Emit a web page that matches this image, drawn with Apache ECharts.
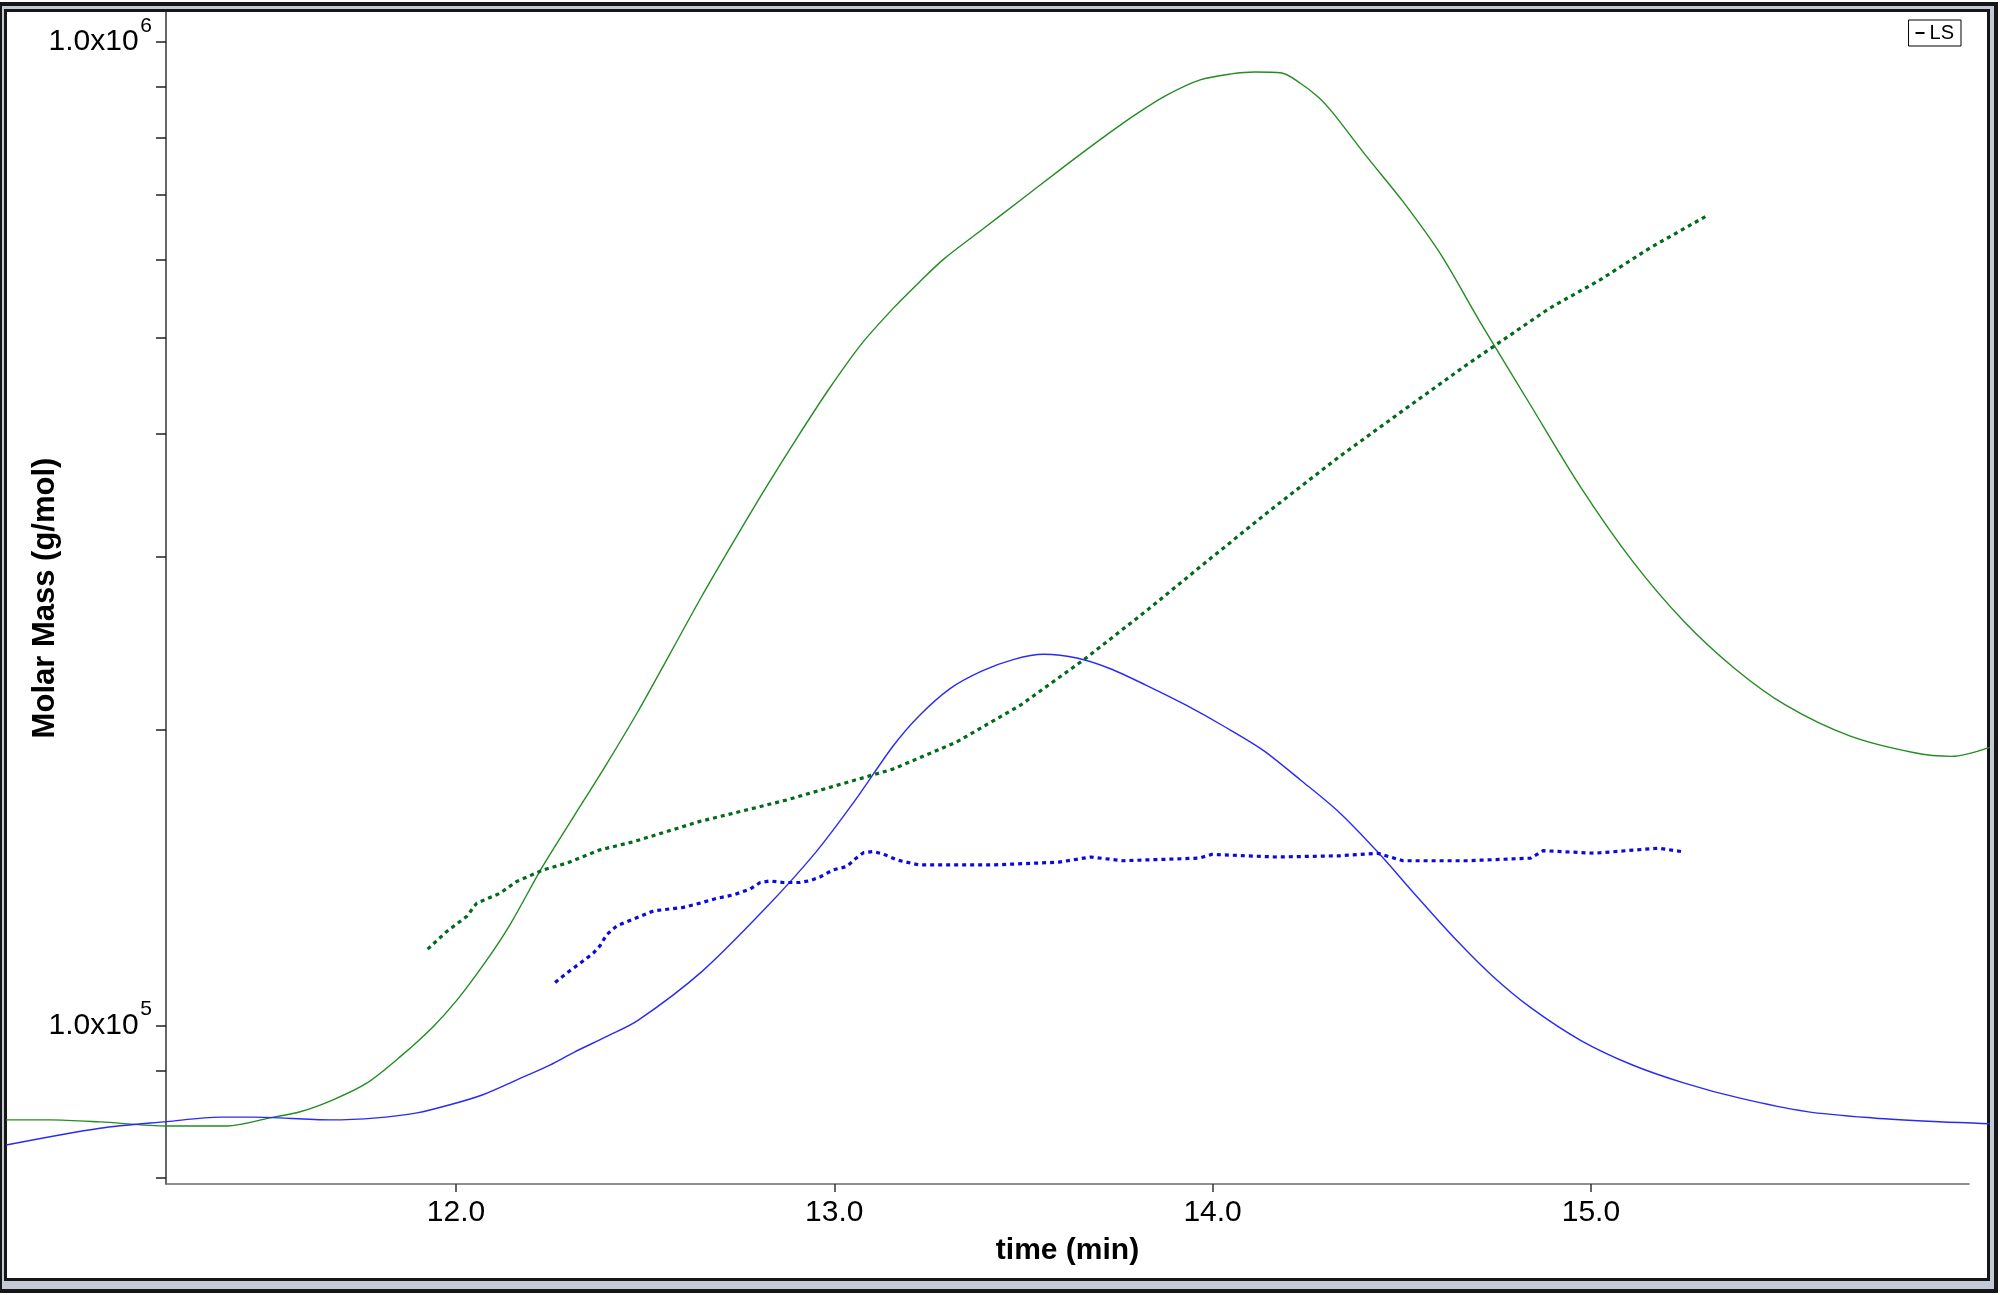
<!DOCTYPE html>
<html>
<head>
<meta charset="utf-8">
<script src="https://cdn.jsdelivr.net/npm/echarts@6/dist/echarts.min.js"></script>
<style>
html,body{margin:0;padding:0;background:#ffffff;}
#chart{width:2000px;height:1295px;}
</style>
</head>
<body>
<div id="chart"></div>
<script>
// ---- Data (time in min, molar mass in g/mol) ----
// LS trace (green solid)
const lsTime = [10.811, 10.929, 11.059, 11.236, 11.395, 11.508, 11.588, 11.675, 11.765, 11.852, 11.939, 12.003, 12.076, 12.143, 12.228, 12.312, 12.396, 12.481, 12.565, 12.649, 12.733, 12.818, 12.902, 12.986, 13.071, 13.155, 13.222, 13.290, 13.391, 13.492, 13.593, 13.702, 13.795, 13.880, 13.967, 14.049, 14.112, 14.183, 14.231, 14.279, 14.318, 14.408, 14.503, 14.604, 14.706, 14.841, 14.975, 15.110, 15.245, 15.380, 15.515, 15.684, 15.852, 15.953, 16.054];
const lsMass = [80200, 80200, 79820, 79070, 79070, 80580, 81730, 84060, 87450, 92940, 99700, 106200, 115800, 126700, 144900, 163300, 183900, 208600, 238500, 272900, 310100, 351700, 396100, 443800, 492700, 535700, 568600, 601900, 644600, 690400, 739600, 795100, 843000, 883400, 915100, 928000, 932200, 930100, 908500, 879300, 847000, 764100, 688500, 607500, 520000, 427000, 351700, 296600, 257800, 230700, 211700, 197000, 189500, 187800, 191800];
// Second detector trace (blue solid)
const riTime = [10.811, 11.059, 11.236, 11.376, 11.463, 11.667, 11.791, 11.897, 11.984, 12.071, 12.161, 12.248, 12.312, 12.396, 12.481, 12.649, 12.818, 12.952, 13.054, 13.155, 13.222, 13.306, 13.391, 13.475, 13.553, 13.644, 13.728, 13.829, 13.930, 14.032, 14.132, 14.234, 14.335, 14.436, 14.537, 14.638, 14.739, 14.841, 14.975, 15.110, 15.245, 15.394, 15.571, 15.746, 15.921, 16.054];
const riMass = [75620, 78650, 79880, 80710, 80710, 80200, 80580, 81520, 83080, 85060, 88080, 91180, 93950, 97390, 101230, 113400, 131600, 150200, 169200, 192300, 206100, 220100, 229400, 235700, 238500, 236300, 230700, 221400, 211700, 201300, 190700, 177500, 164700, 150200, 135700, 122900, 112400, 104300, 96510, 91190, 87460, 84380, 81770, 80560, 79840, 79480];
// Molar mass points (green dotted)
const mmGreenTime = [11.925, 11.975, 12.028, 12.055, 12.116, 12.160, 12.231, 12.293, 12.381, 12.469, 12.557, 12.645, 12.733, 12.821, 12.874, 13.155, 13.323, 13.492, 13.661, 13.829, 13.998, 14.166, 14.335, 14.503, 14.672, 14.760, 14.892, 15.024, 15.156, 15.310];
const mmGreenMass = [119600, 124600, 129100, 133200, 136300, 140100, 144000, 146300, 150900, 153800, 157500, 161300, 164400, 167600, 169600, 182300, 194200, 211700, 235700, 264800, 299300, 337300, 378800, 421900, 469800, 495500, 536600, 572900, 617400, 667000];
// Molar mass points (blue dotted)
const mmBlueTime = [12.262, 12.293, 12.328, 12.363, 12.381, 12.398, 12.425, 12.469, 12.522, 12.601, 12.645, 12.689, 12.733, 12.777, 12.804, 12.830, 12.865, 12.909, 12.936, 12.962, 12.997, 13.033, 13.055, 13.077, 13.103, 13.130, 13.165, 13.222, 13.323, 13.425, 13.593, 13.678, 13.762, 13.964, 13.998, 14.166, 14.335, 14.436, 14.503, 14.672, 14.841, 14.874, 15.009, 15.178, 15.245];
const mmBlueMass = [110600, 113100, 115700, 118500, 120600, 123700, 126300, 128300, 130800, 131900, 133200, 134700, 135800, 137600, 139800, 140300, 139800, 139800, 140400, 141600, 144000, 145100, 147700, 149900, 150300, 149400, 147400, 145700, 145700, 145700, 146600, 148400, 147100, 148000, 149300, 148400, 148800, 149700, 147100, 147100, 148000, 150600, 149700, 151500, 150200];

// Axis ticks / labels / ranges
const xTickValues = [12, 13, 14, 15];
const yLabelValues = [1e5, 1e6];
const yTickValues = [7e4, 9e4, 1e5, 2e5, 3e5, 4e5, 5e5, 6e5, 7e5, 8e5, 9e5, 1e6];
const xRange = [11.2334, 15.9995];       // visible axis extent
const xPlotRange = [10.8105, 16.0550];   // full drawing width (traces run past the axes)
const yRange = [69020, 1072700];

function pairs(t, m) {
  const n = Math.min(t.length, m.length);
  const out = [];
  for (let i = 0; i < n; i++) out.push([t[i], m[i]]);
  return out;
}

const FONT = "'Liberation Sans', Arial, Helvetica, sans-serif";

// "1.0x10" with a raised exponent: exponent on a thin first line,
// a transparent copy of it reserves the width on the main line.
function fmtY(v) {
  const val = v > 1000 ? v : Math.pow(10, v);
  const e = Math.floor(Math.log10(val) + 1e-9);
  const m = val / Math.pow(10, e);
  return '{s|' + e + '}\n{b|' + m.toFixed(1) + 'x10}{g|' + e + '}\n{e| }';
}

const chart = echarts.init(document.getElementById('chart'), null, {renderer: 'canvas'});

chart.setOption({
  animation: false,
  textStyle: {fontFamily: FONT},
  graphic: [
    {type: 'rect', z: -20, silent: true, shape: {x: 0, y: 0, width: 2000, height: 1295}, style: {fill: '#ffffff'}},
    {type: 'rect', z: -19, silent: true, shape: {x: 0, y: 2, width: 1998, height: 1291}, style: {fill: '#161616'}},
    {type: 'rect', z: -18, silent: true, shape: {x: 2, y: 6, width: 1992, height: 1283}, style: {fill: '#c4c9d6'}},
    {type: 'rect', z: -17, silent: true, shape: {x: 4, y: 9, width: 1986, height: 1272}, style: {fill: '#161616'}},
    {type: 'rect', z: -16, silent: true, shape: {x: 7, y: 12, width: 1980, height: 1266}, style: {fill: '#ffffff'}}
  ],
  legend: {
    data: [{name: 'LS', icon: 'rect', itemStyle: {color: '#000000'}}],
    right: 39,
    top: 20,
    itemWidth: 9,
    itemHeight: 2,
    borderColor: '#000000',
    borderWidth: 1,
    padding: [3, 7, 3, 7],
    selectedMode: false,
    textStyle: {fontSize: 20, color: '#000000', fontFamily: FONT}
  },
  grid: [
    {left: 166, right: 31, top: 12, bottom: 111, containLabel: false},
    {left: 6, right: 10, top: 12, bottom: 111, containLabel: false}
  ],
  xAxis: [
    {
      type: 'value',
      gridIndex: 0,
      min: xRange[0],
      max: xRange[1],
      name: 'time (min)',
      nameLocation: 'middle',
      nameGap: 52,
      nameMoveOverlap: false,
      nameTextStyle: {fontSize: 30, fontWeight: 'bold', color: '#000000', fontFamily: FONT},
      axisLine: {show: true, onZero: false, lineStyle: {color: '#6a6a6a', width: 1.5}},
      axisTick: {show: true, customValues: xTickValues, length: 8, lineStyle: {color: '#333333', width: 1.5}},
      axisLabel: {customValues: xTickValues, formatter: v => Number(v).toFixed(1), fontSize: 30, color: '#000000', margin: 14, fontFamily: FONT},
      splitLine: {show: false}
    },
    {
      type: 'value',
      gridIndex: 1,
      min: xPlotRange[0],
      max: xPlotRange[1],
      show: false,
      splitLine: {show: false}
    }
  ],
  yAxis: [
    {
      type: 'log',
      gridIndex: 0,
      logBase: 10,
      min: yRange[0],
      max: yRange[1],
      name: 'Molar Mass (g/mol)',
      nameLocation: 'middle',
      nameGap: 105,
      nameMoveOverlap: false,
      nameTextStyle: {fontSize: 31, fontWeight: 'bold', color: '#000000', fontFamily: FONT},
      axisLine: {show: true, onZero: false, lineStyle: {color: '#333333', width: 1.5}},
      axisTick: {show: true, customValues: yTickValues, length: 10, lineStyle: {color: '#222222', width: 1.5}},
      axisLabel: {
        customValues: yLabelValues,
        formatter: fmtY,
        margin: 14,
        align: 'right',
        rich: {
          s: {fontSize: 21, lineHeight: 2, align: 'right', color: '#000000', fontFamily: FONT},
          b: {fontSize: 30, lineHeight: 30, align: 'right', color: '#000000', fontFamily: FONT},
          g: {fontSize: 24, lineHeight: 30, align: 'right', color: 'rgba(0,0,0,0)', fontFamily: FONT},
          e: {fontSize: 2, lineHeight: 2, align: 'right', color: 'rgba(0,0,0,0)', fontFamily: FONT}
        }
      },
      splitLine: {show: false},
      minorTick: {show: false}
    },
    {
      type: 'log',
      gridIndex: 1,
      logBase: 10,
      min: yRange[0],
      max: yRange[1],
      show: false,
      splitLine: {show: false}
    }
  ],
  series: [
    {
      name: 'LS', type: 'line', xAxisIndex: 1, yAxisIndex: 1,
      data: pairs(lsTime, lsMass), symbol: 'none', showSymbol: false,
      smooth: 0.3, clip: false, z: 3,
      lineStyle: {color: '#238c23', width: 1.4}, itemStyle: {color: '#238c23'}
    },
    {
      name: 'dRI', type: 'line', xAxisIndex: 1, yAxisIndex: 1,
      data: pairs(riTime, riMass), symbol: 'none', showSymbol: false,
      smooth: 0.3, clip: false, z: 3,
      lineStyle: {color: '#2a2af5', width: 1.4}, itemStyle: {color: '#2a2af5'}
    },
    {
      name: 'Molar mass (green)', type: 'line', xAxisIndex: 1, yAxisIndex: 1,
      data: pairs(mmGreenTime, mmGreenMass), symbol: 'none', showSymbol: false,
      smooth: false, clip: false, z: 4,
      lineStyle: {color: '#006b1b', width: 3.2, type: [4, 4], cap: 'butt'}, itemStyle: {color: '#006b1b'}
    },
    {
      name: 'Molar mass (blue)', type: 'line', xAxisIndex: 1, yAxisIndex: 1,
      data: pairs(mmBlueTime, mmBlueMass), symbol: 'none', showSymbol: false,
      smooth: false, clip: false, z: 4,
      lineStyle: {color: '#0a0ae0', width: 3.2, type: [4, 4], cap: 'butt'}, itemStyle: {color: '#0a0ae0'}
    }
  ]
});
</script>
</body>
</html>
